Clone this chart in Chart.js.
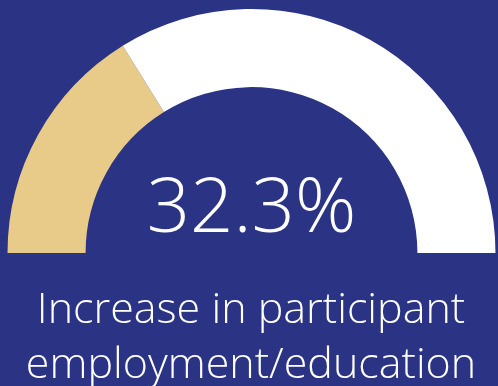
<!DOCTYPE html>
<html>
<head>
<meta charset="utf-8">
<script src="https://cdn.jsdelivr.net/npm/chart.js@4"></script>
<style>
  html, body { margin: 0; padding: 0; background: #2b3384; }
  #wrap { width: 498px; height: 386px; position: relative; }
</style>
</head>
<body>
<div id="wrap"><canvas data-chart></canvas></div>
<script>
const canvas = document.querySelector('[data-chart]');
const ctx = canvas.getContext('2d');

// Config
const GAUGE_FILL = '#e8cb89';
const GAUGE_REST = '#ffffff';

const labels = ['Increase', 'Remaining'];
const dataValues = [32.3, 67.7];
const caption = ['Increase in participant', 'employment/education'];

// Centre value and caption under the gauge
const gaugeText = {
	id: 'gaugeText',
	afterDraw(chart) {
		const c = chart.ctx;
		const arc = chart.getDatasetMeta(0).data[0];
		c.save();
		c.fillStyle = '#ffffff';
		c.textAlign = 'center';
		c.textBaseline = 'alphabetic';
		c.font = '300 76px "Open Sans", sans-serif';
		c.fillText(`${dataValues[0]}%`, arc.x, 232);
		c.font = '300 43px "Open Sans", sans-serif';
		c.fillText(caption[0], 251, 323);
		c.fillText(caption[1], 251, 378);
		c.restore();
	}
};

const data = {
	labels,
	datasets: [
		{
			data: dataValues,
			backgroundColor: [GAUGE_FILL, GAUGE_REST],
			borderWidth: 0
		}
	]
};

const options = {
	responsive: true,
	maintainAspectRatio: false,
	animation: false,
	rotation: -90,
	circumference: 180,
	cutout: '68%',
	layout: {
		padding: { left: 7.5, right: 2.5, top: 9, bottom: 133 }
	},
	plugins: {
		legend: { display: false },
		tooltip: { enabled: false }
	}
};

// Init
new Chart(ctx, {
	type: 'doughnut',
	data,
	options,
	plugins: [gaugeText]
});
</script>
</body>
</html>
